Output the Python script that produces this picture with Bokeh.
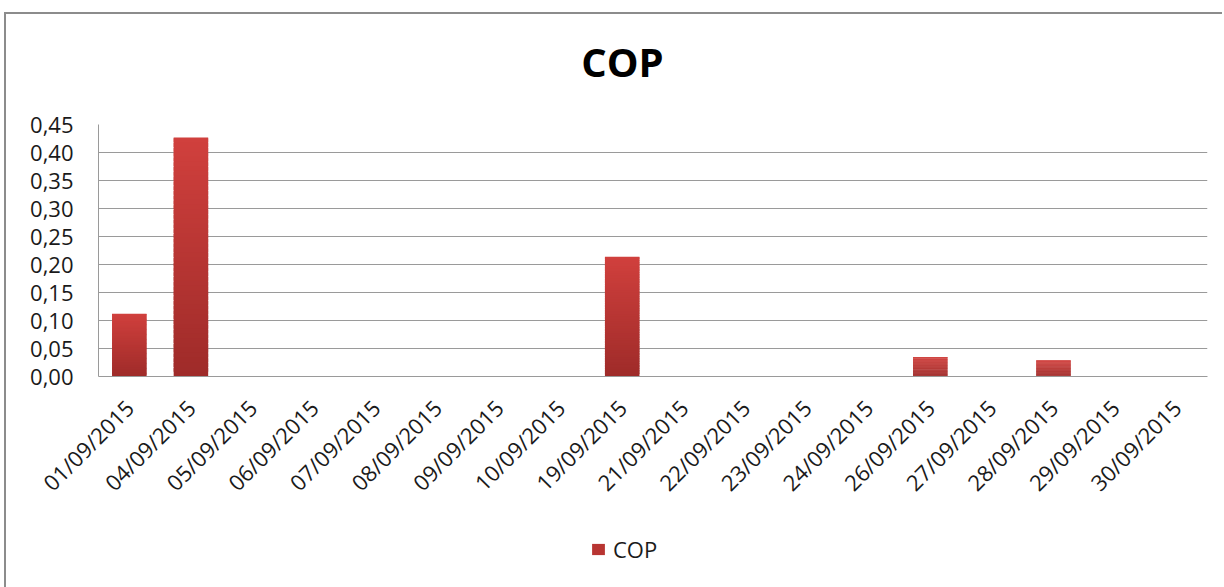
import math
from bokeh.plotting import figure
from bokeh.layouts import column
from bokeh.models import (ColumnDataSource, FactorRange, Range1d, FixedTicker,
                          CustomJSTickFormatter, Legend, LegendItem, Label)
from bokeh.embed import file_html
from bokeh.resources import INLINE

# ---- data ----
dates = ["01/09/2015", "04/09/2015", "05/09/2015", "06/09/2015", "07/09/2015",
         "08/09/2015", "09/09/2015", "10/09/2015", "19/09/2015", "21/09/2015",
         "22/09/2015", "23/09/2015", "24/09/2015", "26/09/2015", "27/09/2015",
         "28/09/2015", "29/09/2015", "30/09/2015"]
cop = [0.112, 0.427, 0.0, 0.0, 0.0, 0.0, 0.0, 0.0, 0.214, 0.0,
       0.0, 0.0, 0.0, 0.035, 0.0, 0.029, 0.0, 0.0]
y_ticks = [0.0, 0.05, 0.10, 0.15, 0.20, 0.25, 0.30, 0.35, 0.40, 0.45]
title_text = "COP"
series_name = "COP"

FONT = "Open Sans"
TOP_RGB = (209, 64, 61)
BOT_RGB = (158, 43, 41)
N = 50
W = 1216

# gradient strips built from the values (slightly overlapping to hide seams)
xs, bots, tops, cols = [], [], [], []
for d, v in zip(dates, cop):
    if v <= 0:
        continue
    for i in range(N):
        t = (i + 0.5) / N
        r = round(BOT_RGB[0] + (TOP_RGB[0] - BOT_RGB[0]) * t)
        g = round(BOT_RGB[1] + (TOP_RGB[1] - BOT_RGB[1]) * t)
        b = round(BOT_RGB[2] + (TOP_RGB[2] - BOT_RGB[2]) * t)
        xs.append(d)
        bots.append(v * i / N)
        tops.append(min(v, v * (i + 1.8) / N))
        cols.append("#%02x%02x%02x" % (r, g, b))
src = ColumnDataSource(dict(x=xs, bottom=bots, top=tops, color=cols))

# ---------- title strip ----------
top_fig = figure(width=W, height=90, x_range=(0, 1), y_range=(0, 1),
                 x_axis_location=None, y_axis_location=None,
                 output_backend="svg", toolbar_location=None,
                 min_border=0, outline_line_color=None)
top_fig.grid.visible = False
top_fig.add_layout(Label(x=524, y=43, x_units="screen", y_units="screen",
                         text=title_text, text_align="center",
                         text_baseline="alphabetic",
                         text_font=FONT, text_font_size="40px",
                         text_font_style="bold", text_color="#000000"))

# ---------- main chart ----------
p = figure(x_range=FactorRange(factors=dates, range_padding=0),
           y_range=Range1d(0, 0.45),
           frame_width=1109, frame_height=252,
           output_backend="svg", toolbar_location=None,
           min_border_left=92, min_border_right=15,
           min_border_top=20, min_border_bottom=150)

BAR_W = 0.56
p.vbar(x="x", bottom="bottom", top="top", width=BAR_W, source=src,
       fill_color="color", line_color=None)

p.outline_line_color = None
p.background_fill_color = "white"
p.border_fill_color = "white"

p.yaxis.ticker = FixedTicker(ticks=y_ticks)
p.yaxis.formatter = CustomJSTickFormatter(code="return tick.toFixed(2).replace('.', ',');")
p.yaxis.axis_line_color = "#9a9a9a"
p.yaxis.major_tick_line_color = None
p.yaxis.minor_tick_line_color = None
p.yaxis.major_tick_out = 0
p.yaxis.major_tick_in = 0
p.yaxis.minor_tick_out = 0
p.yaxis.major_label_standoff = 25
p.yaxis.major_label_text_font = FONT
p.yaxis.major_label_text_font_size = "22px"
p.yaxis.major_label_text_color = "#1a1a1a"

p.xaxis.axis_line_color = "#9a9a9a"
p.xaxis.major_tick_line_color = None
p.xaxis.minor_tick_line_color = None
p.xaxis.major_tick_out = 0
p.xaxis.major_tick_in = 0
p.xaxis.minor_tick_out = 0
p.xaxis.major_label_orientation = math.pi / 4
p.xaxis.major_label_standoff = 27
p.xaxis.major_label_text_font = FONT
p.xaxis.major_label_text_font_size = "22px"
p.xaxis.major_label_text_color = "#1a1a1a"

p.xgrid.grid_line_color = None
p.ygrid.grid_line_color = "#9a9a9a"
p.ygrid.grid_line_width = 1

# ---------- legend strip ----------
leg_fig = figure(width=W, height=80, x_range=(0, 1), y_range=(0, 1),
                 x_axis_location=None, y_axis_location=None,
                 output_backend="svg", toolbar_location=None,
                 min_border=0, outline_line_color=None)
leg_fig.grid.visible = False
leg_r = leg_fig.vbar(x=[0.5], bottom=[0], top=[0], width=0.1,
                     fill_color="#b83532", line_color=None)
legend = Legend(items=[LegendItem(label=series_name, renderers=[leg_r])],
                location=(492, 42), orientation="horizontal",
                glyph_width=16, glyph_height=14, label_standoff=7,
                padding=0, margin=0, border_line_color=None,
                background_fill_alpha=0,
                label_text_font=FONT, label_text_font_size="22px",
                label_text_color="#1a1a1a")
leg_fig.add_layout(legend, "center")

layout = column(top_fig, p, leg_fig, spacing=0,
                styles={"border-left": "2px solid #8c8c8c",
                        "border-top": "2px solid #8c8c8c",
                        "margin-left": "4px", "margin-top": "12px",
                        "margin-bottom": "-60px"})

open("out.html", "w").write(file_html(layout, INLINE))
